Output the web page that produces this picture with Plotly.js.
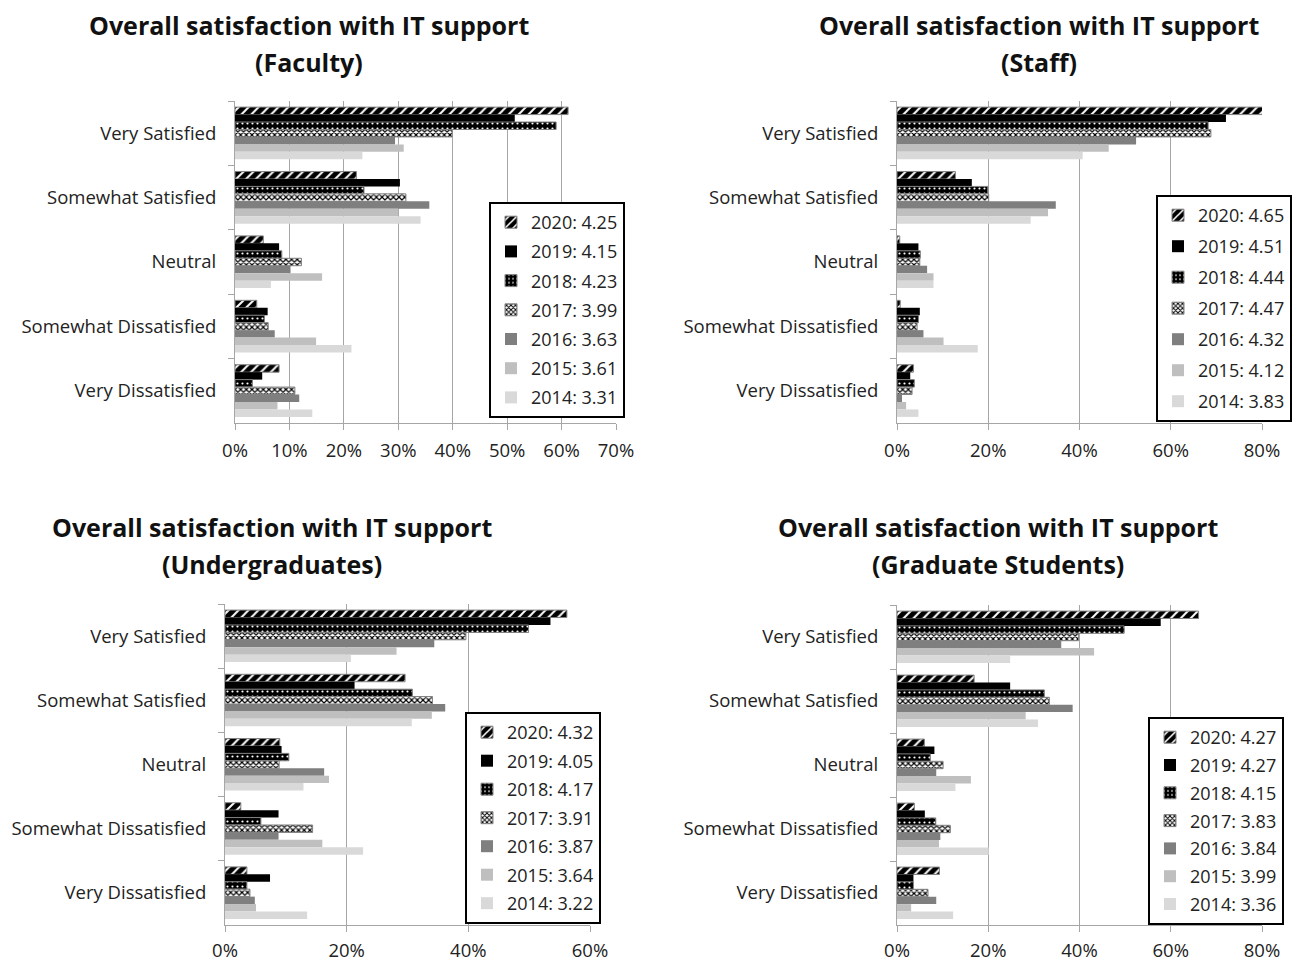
<!DOCTYPE html>
<html>
<head>
<meta charset="utf-8">
<script src="https://cdn.plot.ly/plotly-3.0.1.min.js"></script>
<style>html,body{margin:0;padding:0;background:#fff;}#chart{width:1293px;height:962px;}</style>
</head>
<body>
<div id="chart"></div>
<script>
// ---- data ----
const categories = ['Very Satisfied', 'Somewhat Satisfied', 'Neutral', 'Somewhat Dissatisfied', 'Very Dissatisfied'];
const years = ['2020', '2019', '2018', '2017', '2016', '2015', '2014'];

// rows = years (2020..2014), columns = categories (percent)
const facultyValues = [
  [61.2, 22.3, 5.2, 4.0, 8.1],
  [51.4, 30.3, 8.1, 6.0, 5.0],
  [59.0, 23.7, 8.6, 5.4, 3.2],
  [39.9, 31.4, 12.2, 6.1, 11.0],
  [29.4, 35.7, 10.2, 7.3, 11.8],
  [31.0, 30.0, 16.0, 14.9, 7.8],
  [23.4, 34.1, 6.6, 21.4, 14.2]
];
const staffValues = [
  [80.4, 12.8, 0.6, 0.7, 3.6],
  [72.1, 16.4, 4.7, 5.0, 2.9],
  [68.2, 19.9, 5.1, 4.7, 3.8],
  [68.8, 20.1, 5.0, 4.4, 3.3],
  [52.4, 34.8, 6.6, 5.8, 1.1],
  [46.4, 33.1, 8.0, 10.2, 2.0],
  [40.7, 29.3, 8.0, 17.7, 4.7]
];
const undergradValues = [
  [56.2, 29.6, 9.0, 2.6, 3.6],
  [53.5, 21.3, 9.3, 8.8, 7.4],
  [49.9, 30.8, 10.5, 5.9, 3.6],
  [39.6, 34.1, 8.9, 14.4, 4.1],
  [34.4, 36.2, 16.3, 8.8, 4.9],
  [28.2, 34.0, 17.1, 16.0, 5.1],
  [20.7, 30.7, 12.9, 22.7, 13.5]
];
const gradValues = [
  [66.1, 16.9, 6.0, 3.8, 9.3],
  [57.8, 24.8, 8.2, 6.1, 3.6],
  [49.8, 32.3, 7.3, 8.5, 3.6],
  [39.8, 33.4, 10.1, 11.7, 6.8],
  [36.0, 38.5, 8.6, 9.5, 8.6],
  [43.2, 28.2, 16.2, 9.2, 3.1],
  [24.8, 30.9, 12.8, 20.1, 12.3]
];

const facultyMeans = ['4.25', '4.15', '4.23', '3.99', '3.63', '3.61', '3.31'];
const staffMeans = ['4.65', '4.51', '4.44', '4.47', '4.32', '4.12', '3.83'];
const undergradMeans = ['4.32', '4.05', '4.17', '3.91', '3.87', '3.64', '3.22'];
const gradMeans = ['4.27', '4.27', '4.15', '3.83', '3.84', '3.99', '3.36'];

const titleLine1 = 'Overall satisfaction with IT support';
const groupNames = ['(Faculty)', '(Staff)', '(Undergraduates)', '(Graduate Students)'];

// ---- styles ----
const FONT = 'Open Sans, Noto Sans, sans-serif';
const yearStyles = [
  {color: '#000', line: {color: '#808080', width: 1}, pattern: {shape: '/', bgcolor: '#000', fgcolor: '#fff', size: 7, solidity: 0.28}},
  {color: '#000', line: {width: 0}},
  {color: '#000', line: {color: '#808080', width: 1}, pattern: {shape: '.', bgcolor: '#000', fgcolor: '#fff', size: 5, solidity: 0.15}},
  {color: '#fff', line: {color: '#808080', width: 1}, pattern: {shape: 'x', bgcolor: '#fff', fgcolor: '#000', size: 4, solidity: 0.5}},
  {color: '#7f7f7f', line: {width: 0}},
  {color: '#bfbfbf', line: {width: 0}},
  {color: '#d9d9d9', line: {width: 0}}
];

const panels = [
  {values: facultyValues, means: facultyMeans, xa: 'x', ya: 'y', legend: 'legend', key: 'f'},
  {values: staffValues, means: staffMeans, xa: 'x2', ya: 'y2', legend: 'legend2', key: 's'},
  {values: undergradValues, means: undergradMeans, xa: 'x3', ya: 'y3', legend: 'legend3', key: 'u'},
  {values: gradValues, means: gradMeans, xa: 'x4', ya: 'y4', legend: 'legend4', key: 'g'}
];

const traces = [];
panels.forEach(p => {
  years.forEach((yr, i) => {
    const st = yearStyles[i];
    const marker = {color: st.color, line: st.line};
    if (st.pattern) marker.pattern = st.pattern;
    traces.push({
      type: 'bar',
      orientation: 'h',
      y: categories,
      x: p.values[i],
      name: yr + ': ' + p.means[i],
      xaxis: p.xa,
      yaxis: p.ya,
      legend: p.legend,
      legendgroup: p.key + yr,
      marker: marker,
      hoverinfo: 'x+name'
    });
  });
});

function xAxis(domain, anchor, maxv, dtick, standoff) {
  return {
    domain: domain, anchor: anchor, range: [0, maxv], dtick: dtick, ticksuffix: '%',
    showgrid: true, gridcolor: '#a6a6a6', gridwidth: 1, zeroline: false,
    showline: true, linecolor: '#a6a6a6', linewidth: 1,
    ticks: 'outside', ticklen: 6, tickcolor: '#a6a6a6',
    ticklabelstandoff: standoff,
    tickfont: {family: FONT, size: 18.5, color: '#222'},
    fixedrange: true
  };
}
function yAxis(domain, anchor) {
  return {
    domain: domain, anchor: anchor, autorange: 'reversed', type: 'category',
    showgrid: false, zeroline: false, showline: true, linecolor: '#a6a6a6', linewidth: 1,
    ticks: 'outside', tickson: 'boundaries', ticklen: 6, tickcolor: '#a6a6a6',
    ticklabelstandoff: 14,
    tickfont: {family: FONT, size: 18.5, color: '#222'},
    fixedrange: true
  };
}

const W = 1293, H = 962;
const px = v => v / W;
const py = v => 1 - v / H;

function legendCfg(x, y, gap) {
  return {
    x: px(x), y: py(y), xanchor: 'left', yanchor: 'top',
    bgcolor: '#fff', bordercolor: '#000', borderwidth: 2,
    font: {family: FONT, size: 18, color: '#222'},
    traceorder: 'grouped', tracegroupgap: gap,
    itemwidth: 30, itemclick: false, itemdoubleclick: false
  };
}

const titleCenters = [[309, 25, 62], [1039, 25, 62], [272, 527, 564], [998, 527, 564]];
const annotations = [];
titleCenters.forEach((c, i) => {
  annotations.push({xref: 'paper', yref: 'paper', x: px(c[0]), y: py(c[1]), xanchor: 'center', yanchor: 'middle',
    text: '<b>' + titleLine1 + '</b>', showarrow: false, font: {family: FONT, size: 25, color: '#111'}});
  annotations.push({xref: 'paper', yref: 'paper', x: px(c[0]), y: py(c[2]), xanchor: 'center', yanchor: 'middle',
    text: '<b>' + groupNames[i] + '</b>', showarrow: false, font: {family: FONT, size: 25, color: '#111'}});
});

const layout = {
  width: W, height: H, autosize: false,
  margin: {l: 0, r: 0, t: 0, b: 0},
  paper_bgcolor: '#fff', plot_bgcolor: '#fff',
  barmode: 'group', bargap: 0.19, bargroupgap: 0,
  font: {family: FONT, size: 18, color: '#222'},
  xaxis: xAxis([px(235), px(616)], 'y', 70, 10, 5),
  yaxis: yAxis([py(423), py(101)], 'x'),
  xaxis2: xAxis([px(897), px(1262)], 'y2', 80, 20, 5),
  yaxis2: yAxis([py(423), py(101)], 'x2'),
  xaxis3: xAxis([px(225), px(590)], 'y3', 60, 20, 3),
  yaxis3: yAxis([py(925), py(604)], 'x3'),
  xaxis4: xAxis([px(897), px(1262)], 'y4', 80, 20, 3),
  yaxis4: yAxis([py(925), py(605)], 'x4'),
  legend: legendCfg(489, 202, 2.8),
  legend2: legendCfg(1156, 195, 4.6),
  legend3: legendCfg(465, 712, 2.1),
  legend4: legendCfg(1148, 717, 1.4),
  annotations: annotations,
  showlegend: true
};

Plotly.newPlot('chart', traces, layout, {displayModeBar: false, staticPlot: false});
</script>
</body>
</html>
